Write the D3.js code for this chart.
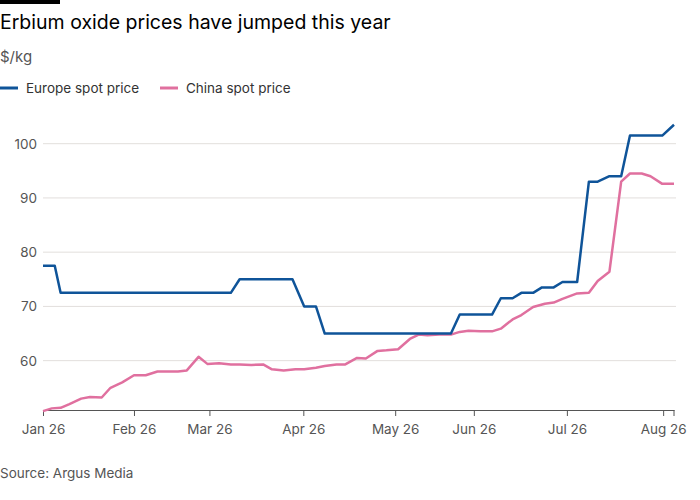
<!DOCTYPE html>
<html><head><meta charset="utf-8">
<script src="https://cdn.jsdelivr.net/npm/d3@7"></script>
<style>body{margin:0;background:#fff;font-family:Inter,"Noto Sans",sans-serif}</style>
</head><body><svg id="c" width="700" height="500"></svg>
<script>
// Positions along time axis, in day-like units since Jan 26
const europeDays = [0,4,6,64,67,85,89,93,96,139,142,153,156,160,163,167,170,174,177,182,186,189,193,197,200,211,215];
const europeVals = [77.5,77.5,72.5,72.5,75,75,70,70,65,65,68.5,68.5,71.5,71.5,72.5,72.5,73.5,73.5,74.5,74.5,93,93,94,94,101.5,101.5,103.5];
const chinaDays = [0,3,6,9,13,16,20,23,27,31,35,39,43,46,49,53,56,60,64,67,71,75,78,82,86,89,93,96,100,103,107,110,114,117,121,125,128,131,135,139,142,145,149,153,156,160,163,167,171,174,177,182,186,189,193,197,200,204,207,211,215];
const chinaVals = [50.7,51.2,51.3,52,53,53.3,53.2,55,56,57.3,57.3,58,58,58,58.2,60.7,59.4,59.5,59.3,59.3,59.2,59.3,58.4,58.2,58.4,58.4,58.7,59,59.3,59.3,60.5,60.4,61.8,61.9,62.1,64,64.8,64.7,64.8,64.8,65.3,65.5,65.4,65.4,65.9,67.6,68.4,69.9,70.5,70.7,71.4,72.4,72.5,74.7,76.4,93,94.5,94.5,94,92.6,92.6];
const yTicks = [60,70,80,90,100];
const xTickDays = [0,31,56.7,88.7,120,146.8,178.5,211.3];
const xTickLabels = ["Jan 26","Feb 26","Mar 26","Apr 26","May 26","Jun 26","Jul 26","Aug 26"];
const seriesNames = ["Europe spot price","China spot price"];
const colors = ["#0f5499","#e0709f"];

const svg = d3.select("#c");
const x = d3.scaleLinear().domain([0,215]).range([43,674]);
const y = d3.scaleLinear().domain([50.9,104]).range([410,122]);

svg.append("rect").attr("x",0).attr("y",0).attr("width",60).attr("height",4).attr("fill","#000");
svg.append("text").attr("x",0).attr("y",29).attr("font-size",19.5).attr("fill","#000").text("Erbium oxide prices have jumped this year");
svg.append("text").attr("x",0).attr("y",62).attr("font-size",15).attr("fill","#555").text("$/kg");
seriesNames.forEach((n,i)=>{
  const lx=[0,160][i];
  svg.append("line").attr("x1",lx).attr("x2",lx+18).attr("y1",88).attr("y2",88).attr("stroke",colors[i]).attr("stroke-width",3);
  svg.append("text").attr("x",lx+26).attr("y",93).attr("font-size",13.5).attr("fill","#333").text(n);
});
yTicks.forEach(t=>{
  svg.append("line").attr("x1",43).attr("x2",676).attr("y1",y(t)).attr("y2",y(t)).attr("stroke","#e2dfdc");
  svg.append("text").attr("x",37).attr("y",y(t)+5).attr("text-anchor","end").attr("font-size",13.5).attr("fill","#555").text(t);
});
const ax = svg.append("g").attr("transform","translate(0,410)")
  .call(d3.axisBottom(x).tickValues(xTickDays).tickFormat((t,i)=>xTickLabels[i]).tickSize(6).tickSizeOuter(0));
ax.select(".domain").attr("stroke","#555");
ax.selectAll(".tick line").attr("stroke","#555");
ax.selectAll("text").attr("font-size",13.5).attr("fill","#555").attr("font-family","Inter,'Noto Sans',sans-serif").attr("dy","1.1em");
svg.append("line").attr("x1",674).attr("x2",674).attr("y1",410).attr("y2",416).attr("stroke","#555");

const line = d3.line().x(p=>x(p[0])).y(p=>y(p[1]));
svg.append("path").datum(chinaDays.map((v,i)=>[v,chinaVals[i]])).attr("d",line).attr("fill","none").attr("stroke",colors[1]).attr("stroke-width",2.5).attr("stroke-linejoin","round");
svg.append("path").datum(europeDays.map((v,i)=>[v,europeVals[i]])).attr("d",line).attr("fill","none").attr("stroke",colors[0]).attr("stroke-width",2.5).attr("stroke-linejoin","round");

svg.append("text").attr("x",0).attr("y",478).attr("font-size",13.5).attr("fill","#555").text("Source: Argus Media");
</script></body></html>
